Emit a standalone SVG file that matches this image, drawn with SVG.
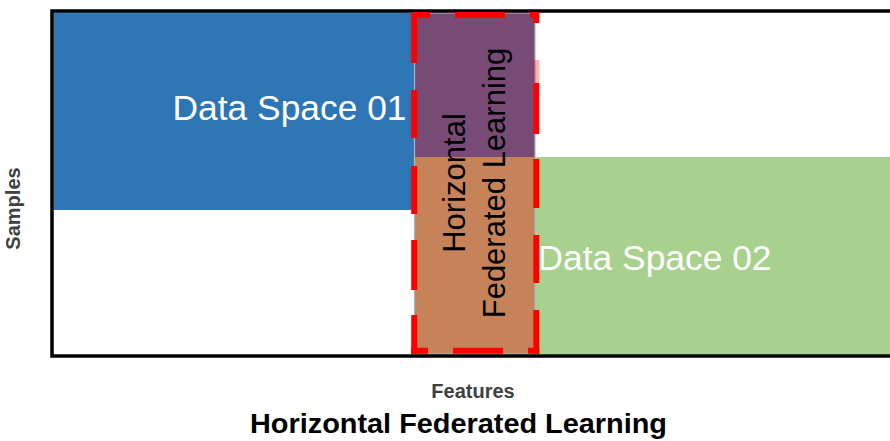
<svg xmlns="http://www.w3.org/2000/svg" width="890" height="441" viewBox="0 0 890 441">
  <style>
    .label { font-family: "Liberation Sans", Arial, sans-serif; }
    .space { fill: #ffffff; font-size: 35.5px; }
    .hfl { fill: #000000; font-size: 31px; text-anchor: middle; }
    .axis { fill: #404040; font-size: 20px; font-weight: bold; text-anchor: middle; }
    .title { fill: #000000; font-size: 28px; font-weight: bold; text-anchor: middle; }
    .dash { fill: none; stroke: #ff0000; stroke-width: 6; }
  </style>
  <rect width="890" height="441" fill="#ffffff"/>

  <!-- Data space 01 (upper-left sample block) -->
  <g id="space01">
    <rect x="53.5" y="12.5" width="361" height="197.5" fill="#2e75b6"/>
    <text class="label space" x="172.5" y="120" textLength="234" lengthAdjust="spacingAndGlyphs">Data Space 01</text>
  </g>

  <!-- Data space 02 (lower-right sample block) -->
  <g id="space02">
    <rect x="535" y="157" width="355" height="197.5" fill="#a9d18e"/>
    <text class="label space" x="537.5" y="270" textLength="234" lengthAdjust="spacingAndGlyphs">Data Space 02</text>
  </g>

  <!-- Shared feature columns -->
  <g id="overlap">
    <rect x="414.5" y="12.5" width="120.5" height="144.5" fill="#784a76"/>
    <rect x="414.5" y="157" width="120.5" height="197.5" fill="#c6835a"/>
    <rect x="414.5" y="13" width="120.5" height="341" fill="none" stroke="#a9b6c6" stroke-width="1.2"/>
    <text class="label hfl" transform="translate(465,183) rotate(-90)">Horizontal</text>
    <text class="label hfl" transform="translate(505,183) rotate(-90)">Federated Learning</text>
  </g>

  <!-- Axes frame -->
  <g id="frame">
    <path d="M890,11 H52 V356 H890" fill="none" stroke="#000000" stroke-width="3.5"/>
    <text class="label axis" transform="translate(20,208.5) rotate(-90)">Samples</text>
    <text class="label axis" x="473" y="398">Features</text>
  </g>

  <!-- Dashed highlight around the shared features -->
  <g id="connectors">
    <path class="dash" d="M411,15 H430 M455,15 H505 M530,15 H539.3"/>
    <path class="dash" d="M411,350.7 H428 M453,350.7 H503 M528,350.7 H539.3"/>
    <path class="dash" stroke-width="5" d="M414.2,12 V63 M414.2,90 V138 M414.2,166 V214 M414.2,240 V290 M414.2,315 V354"/>
    <path class="dash" d="M536.3,12 V23 M536.3,83 V134 M536.3,159 V208 M536.3,235 V283 M536.3,310 V354"/>
    <path class="dash" opacity="0.3" d="M536.3,60 V83"/>
  </g>

  <text class="label title" x="458.5" y="433" textLength="417" lengthAdjust="spacingAndGlyphs">Horizontal Federated Learning</text>
</svg>
